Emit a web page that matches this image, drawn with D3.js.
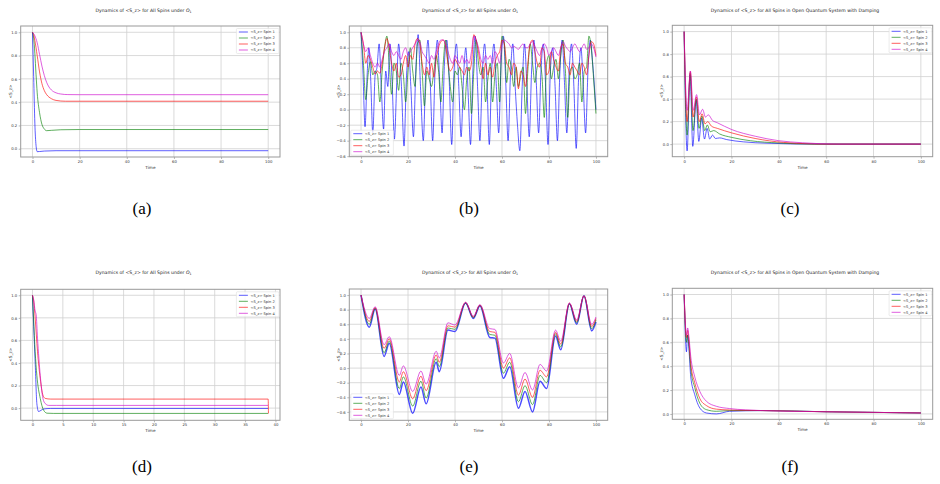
<!DOCTYPE html>
<html>
<head>
<meta charset="utf-8">
<script src="https://cdn.jsdelivr.net/npm/d3@7"></script>
<style>
  body { margin: 0; background: #fff; }
  svg { display: block; }
</style>
</head>
<body>
<div id="chart"></div>
<script>
// ---------------------------------------------
// ---------          Data           -----------
// ---------------------------------------------

const spinNames = ["<S_z> Spin 1", "<S_z> Spin 2", "<S_z> Spin 3", "<S_z> Spin 4"];
const spinColors = ["#0000ff", "#008000", "#ff0000", "#cc00cc"];
const ticks100 = [0, 20, 40, 60, 80, 100];
const ticks40 = [0, 5, 10, 15, 20, 25, 30, 35, 40];
const ticksY01 = [0.0, 0.2, 0.4, 0.6, 0.8, 1.0];
const ticksYneg = [-0.6, -0.4, -0.2, 0.0, 0.2, 0.4, 0.6, 0.8, 1.0];

// (a) closed system, O_1
const a_spin1 = [[0,1.0],[0.5,0.62],[1,0.22],[1.5,0.03],[2,-0.025],[3,-0.024],[5,-0.02],[10,-0.017],[100,-0.017]];
const a_spin2 = [[0,1.0],[0.5,0.95],[1,0.82],[1.5,0.64],[2,0.48],[3,0.31],[4,0.21],[5,0.17],[6,0.155],[8,0.158],[12,0.163],[20,0.165],[100,0.165]];
const a_spin3 = [[0,1.0],[0.5,0.98],[1,0.93],[2,0.8],[3,0.66],[4,0.56],[5,0.5],[6,0.465],[8,0.43],[10,0.415],[14,0.408],[20,0.408],[100,0.408]];
const a_spin4 = [[0,1.0],[1,0.97],[2,0.91],[3,0.81],[4,0.71],[5,0.63],[6,0.57],[7,0.53],[8,0.505],[10,0.48],[12,0.47],[15,0.465],[20,0.464],[100,0.464]];

// (b) oscillating, O_1
const b_spin1 = [[0,1],[0.8,0.5],[1.7,-0.22],[2.6,0.45],[3.3,0.8],[4.1,0.4],[5,-0.3],[6,0.45],[6.8,0.55],[7.7,0.85],[8.6,0.3],[9.6,-0.25],[10.5,0.5],[11.4,0.3],[12.3,0.85],[13.3,0.3],[14.2,-0.38],[15.2,0.35],[16,0.85],[17.2,0.3],[18.3,-0.47],[19.3,0.4],[20.3,0.75],[21.2,0.3],[22.3,-0.35],[23.3,0.5],[24.3,0.97],[25.3,0.3],[26.5,-0.4],[27.5,0.45],[28.5,0.9],[29.4,0.4],[30.5,-0.4],[31.5,0.5],[32.5,0.9],[33.5,0.35],[34.5,-0.3],[35.5,0.6],[36.5,0.9],[37.5,0.4],[38.6,-0.45],[39.6,0.5],[40.6,0.85],[41.6,0.3],[42.6,-0.35],[43.6,0.4],[44.6,0.8],[45.6,0.2],[46.6,-0.45],[47.6,0.5],[48.6,0.95],[49.6,0.3],[50.6,-0.4],[51.6,0.45],[52.6,0.85],[53.6,0.35],[54.6,-0.45],[55.6,0.5],[56.6,0.85],[57.6,0.3],[58.6,-0.3],[59.6,0.6],[60.6,0.95],[61.6,0.35],[62.6,-0.4],[63.6,0.45],[64.6,0.85],[65.6,0.3],[66.6,-0.2],[67.6,-0.53],[68.6,0.3],[69.6,0.85],[70.6,0.3],[71.6,-0.35],[72.6,0.5],[73.6,0.9],[74.6,0.35],[75.6,-0.3],[76.6,0.5],[77.6,0.85],[78.6,0.3],[79.6,-0.45],[80.6,0.5],[81.6,0.8],[82.6,0.3],[83.6,-0.4],[84.6,0.45],[85.6,0.9],[86.6,0.35],[87.6,-0.3],[88.6,0.5],[89.6,0.85],[90.6,0.3],[91.6,-0.5],[92.6,0.4],[93.6,0.8],[94.6,0.3],[95.6,-0.3],[96.6,0.5],[97.6,0.9],[98.6,0.6],[100,0.0]];
const b_spin2 = [[0,1],[1,0.6],[2,0.13],[3,0.45],[4,0.62],[5,0.45],[6,0.5],[7,0.45],[8,0.1],[9,0.5],[10,0.8],[11,0.95],[12,0.6],[13,0.2],[14,0.6],[15,0.5],[16,0.25],[17,0.6],[18,0.45],[19,0.1],[20,0.5],[21,0.8],[22,0.5],[23,0.3],[24,0.85],[25,0.9],[26,0.5],[27,0.05],[28,0.5],[29,0.4],[30,0.3],[31,0.5],[32,0.7],[33,0.5],[34,0.1],[35,0.6],[36,0.9],[37,0.6],[38,0.3],[39,0.1],[40,0.5],[41,0.45],[42,0.55],[43,0.3],[44,0.0],[45,0.4],[46,0.55],[47,-0.05],[48,0.5],[49,0.9],[50,0.6],[51,0.45],[52,0.55],[53,0.1],[54,0.4],[55,0.6],[56,0.1],[57,0.45],[58,0.6],[59,0.1],[60,0.95],[61,0.85],[62,0.35],[63,0.65],[64,0.55],[65,0.3],[66,0.55],[67,0.3],[68,0.45],[69,0.55],[70,-0.05],[71,0.5],[72,0.85],[73,0.6],[74,0.35],[75,0.55],[76,0.6],[77,0.45],[78,-0.1],[79,0.6],[80,0.7],[81,0.4],[82,0.55],[83,0.65],[84,0.4],[85,0.7],[86,0.9],[87,0.5],[88,-0.1],[89,0.5],[90,0.55],[91,0.4],[92,0.45],[93,0.6],[94,0.1],[95,0.5],[96,0.55],[97,0.95],[98,0.8],[99,0.4],[100,-0.05]];
const b_spin3 = [[0,1],[1,0.85],[2,0.6],[3,0.7],[4,0.65],[5,0.55],[6,0.46],[7,0.5],[8,0.47],[9,0.6],[10,0.8],[11,0.92],[12,0.8],[13,0.6],[14,0.5],[15,0.6],[16,0.42],[17,0.45],[18,0.6],[19,0.7],[20,0.55],[21,0.7],[22,0.65],[23,0.85],[24,0.92],[25,0.85],[26,0.6],[27,0.45],[28,0.55],[29,0.45],[30,0.6],[31,0.42],[32,0.65],[33,0.8],[34,0.88],[35,0.9],[36,0.82],[37,0.6],[38,0.5],[39,0.55],[40,0.65],[41,0.6],[42,0.55],[43,0.5],[44,0.45],[45,0.55],[46,0.5],[47,0.6],[48,0.97],[49,0.9],[50,0.75],[51,0.55],[52,0.4],[53,0.6],[54,0.45],[55,0.55],[56,0.42],[57,0.6],[58,0.7],[59,0.75],[60,0.9],[61,0.85],[62,0.6],[63,0.55],[64,0.45],[65,0.6],[66,0.55],[67,0.27],[68,0.5],[69,0.45],[70,0.3],[71,0.6],[72,0.85],[73,0.9],[74,0.75],[75,0.6],[76,0.55],[77,0.8],[78,0.75],[79,0.45],[80,0.5],[81,0.75],[82,0.65],[83,0.55],[84,0.5],[85,0.8],[86,0.85],[87,0.6],[88,0.55],[89,0.45],[90,0.6],[91,0.55],[92,0.5],[93,0.45],[94,0.6],[95,0.55],[96,0.45],[97,0.7],[98,0.88],[99,0.85],[100,0.7]];
const b_spin4 = [[0,1],[1,0.85],[2,0.75],[3,0.8],[4,0.7],[5,0.6],[6,0.55],[7,0.6],[8,0.55],[9,0.65],[10,0.75],[11,0.8],[12,0.85],[13,0.75],[14,0.7],[15,0.75],[16,0.7],[17,0.65],[18,0.75],[19,0.8],[20,0.7],[21,0.75],[22,0.8],[23,0.85],[24,0.9],[25,0.88],[26,0.75],[27,0.7],[28,0.65],[29,0.6],[30,0.7],[31,0.65],[32,0.75],[33,0.85],[34,0.9],[35,0.9],[36,0.85],[37,0.75],[38,0.65],[39,0.6],[40,0.7],[41,0.65],[42,0.6],[43,0.7],[44,0.6],[45,0.65],[46,0.6],[47,0.75],[48,0.95],[49,0.9],[50,0.8],[51,0.65],[52,0.6],[53,0.7],[54,0.65],[55,0.7],[56,0.6],[57,0.75],[58,0.7],[59,0.6],[60,0.85],[61,0.9],[62,0.88],[63,0.85],[64,0.8],[65,0.82],[66,0.8],[67,0.78],[68,0.82],[69,0.85],[70,0.8],[71,0.8],[72,0.85],[73,0.88],[74,0.82],[75,0.75],[76,0.7],[77,0.8],[78,0.85],[79,0.8],[80,0.7],[81,0.75],[82,0.8],[83,0.75],[84,0.7],[85,0.8],[86,0.88],[87,0.82],[88,0.78],[89,0.75],[90,0.8],[91,0.85],[92,0.8],[93,0.75],[94,0.8],[95,0.85],[96,0.78],[97,0.8],[98,0.85],[99,0.8],[100,0.68]];

// (c) open system with damping
const c_spin1 = [[0,1.0],[1.26,-0.06],[2.5,0.615],[3.65,-0.02],[5.05,0.39],[6.2,0.024],[7.4,0.23],[8.6,0.045],[9.7,0.14],[10.8,0.045],[12,0.08],[13.2,0.05],[15,0.055],[18,0.04],[25,0.02],[35,0.008],[45,0.002],[60,0.0],[100,0.0]];
const c_spin2 = [[0,1.0],[1.26,0.08],[2.55,0.63],[3.75,0.12],[5.15,0.4],[6.3,0.14],[7.5,0.25],[8.7,0.12],[9.8,0.17],[11,0.11],[12.5,0.12],[15,0.09],[20,0.06],[28,0.03],[40,0.01],[55,0.0],[100,0.0]];
const c_spin3 = [[0,1.0],[1.26,0.2],[2.6,0.645],[3.8,0.24],[5.2,0.42],[6.4,0.2],[7.6,0.27],[8.8,0.18],[10,0.2],[11.5,0.16],[14,0.14],[20,0.1],[30,0.05],[42,0.015],[60,0.0],[100,0.0]];
const c_spin4 = [[0,1.0],[1.26,0.3],[2.65,0.65],[3.85,0.3],[5.25,0.44],[6.5,0.26],[7.8,0.31],[9,0.24],[10.2,0.26],[12,0.21],[14,0.19],[20,0.13],[30,0.07],[40,0.03],[50,0.012],[65,0.0],[100,0.0]];

// (d) closed system, O_1, short run
const d_spin1 = [[0,1.0],[0.2,0.72],[0.44,0.41],[0.72,0.04],[1.0,-0.03],[1.4,-0.02],[1.8,-0.008],[3,-0.003],[38.8,-0.003]];
const d_spin2 = [[0,1.0],[0.17,0.8],[0.44,0.5],[0.72,0.29],[1.28,0.086],[1.83,-0.018],[2.4,-0.045],[3.5,-0.047],[38.8,-0.047]];
const d_spin3 = [[0,1.0],[0.2,0.95],[0.44,0.8],[0.83,0.5],[1.28,0.26],[1.72,0.115],[2.1,0.086],[3,0.08],[38.8,0.08],[38.85,-0.047]];
const d_spin4 = [[0,1.0],[0.2,0.96],[0.44,0.86],[0.6,0.83],[0.83,0.62],[1.28,0.29],[1.72,0.086],[2.1,0.04],[2.67,0.024],[4,0.024],[38.8,0.024]];

// (e) slow oscillation, O_1
const e_spin1 = [[0,1.0],[3.5,0.56],[6,0.81],[9.8,0.16],[12,0.34],[16.3,-0.36],[18,-0.19],[22,-0.62],[25.5,-0.26],[27.7,-0.49],[32,0.08],[33.3,-0.05],[37,0.52],[40,0.5],[44.5,0.89],[47.8,0.68],[50.6,0.85],[54.8,0.42],[57,0.41],[60.6,-0.14],[63.3,0.02],[67,-0.55],[69.8,-0.32],[73,-0.6],[76.2,-0.18],[79,-0.28],[82.8,0.44],[85,0.25],[88.7,0.88],[91.8,0.6],[94.9,0.99],[98.2,0.51],[100,0.63]];
const e_spin2 = [[0,1.0],[3.5,0.6],[6,0.82],[9.8,0.21],[12,0.37],[16.3,-0.28],[18,-0.12],[22,-0.52],[25.5,-0.18],[27.7,-0.41],[32,0.13],[33.3,0.02],[37,0.55],[40,0.53],[44.5,0.89],[47.8,0.69],[50.6,0.86],[54.8,0.46],[57,0.45],[60.6,-0.07],[63.3,0.08],[67,-0.46],[69.8,-0.24],[73,-0.5],[76.2,-0.1],[79,-0.2],[82.8,0.47],[85,0.29],[88.7,0.88],[91.8,0.62],[94.9,0.99],[98.2,0.54],[100,0.66]];
const e_spin3 = [[0,1.0],[3.5,0.64],[6,0.83],[9.8,0.27],[12,0.4],[16.3,-0.19],[18,-0.05],[22,-0.42],[25.5,-0.11],[27.7,-0.31],[32,0.18],[33.3,0.08],[37,0.58],[40,0.56],[44.5,0.9],[47.8,0.7],[50.6,0.86],[54.8,0.5],[57,0.49],[60.6,0.0],[63.3,0.14],[67,-0.37],[69.8,-0.15],[73,-0.4],[76.2,-0.03],[79,-0.12],[82.8,0.49],[85,0.33],[88.7,0.89],[91.8,0.64],[94.9,0.99],[98.2,0.57],[100,0.68]];
const e_spin4 = [[0,1.0],[3.5,0.68],[6,0.84],[9.8,0.32],[12,0.43],[16.3,-0.1],[18,0.03],[22,-0.32],[25.5,-0.04],[27.7,-0.22],[32,0.23],[33.3,0.14],[37,0.62],[40,0.59],[44.5,0.9],[47.8,0.71],[50.6,0.87],[54.8,0.54],[57,0.53],[60.6,0.07],[63.3,0.2],[67,-0.27],[69.8,-0.06],[73,-0.3],[76.2,0.05],[79,-0.04],[82.8,0.52],[85,0.37],[88.7,0.89],[91.8,0.66],[94.9,0.99],[98.2,0.6],[100,0.7]];

// (f) open system with damping
const f_spin1 = [[0,1.0],[1,0.52],[1.4,0.66],[2,0.55],[2.8,0.31],[4.5,0.16],[6.6,0.05],[9.4,0.008],[13.6,0.0],[19.2,0.022],[33,0.028],[60,0.018],[100,0.008]];
const f_spin2 = [[0,1.0],[1,0.6],[1.4,0.66],[2,0.58],[2.8,0.38],[4.5,0.22],[6.6,0.09],[9.4,0.036],[13.6,0.022],[19.2,0.028],[33,0.028],[60,0.018],[100,0.008]];
const f_spin3 = [[0,1.0],[1,0.64],[1.5,0.7],[2,0.62],[2.8,0.42],[4.5,0.26],[6.6,0.13],[9.4,0.07],[13.6,0.04],[19.2,0.033],[33,0.028],[60,0.018],[100,0.008]];
const f_spin4 = [[0,1.0],[1,0.66],[1.5,0.72],[2,0.65],[2.8,0.48],[4.5,0.31],[6.6,0.19],[9.4,0.106],[13.6,0.064],[19.2,0.045],[26,0.034],[33,0.028],[60,0.018],[100,0.008]];

// ---------------------------------------------
// ---------    Basic Chart Layout      --------
// ---------------------------------------------

const W = 940, H = 484;
const svg = d3.select("#chart").append("svg")
  .attr("width", W)
  .attr("height", H)
  .style("font-family", "'DejaVu Sans', sans-serif");

const panels = [
  {box: [20.7, 280, 26, 157], xd: [-5, 105], yd: [-0.071, 1.054], xt: ticks100, yt: ticksY01,
   data: [a_spin1, a_spin2, a_spin3, a_spin4], title: "o1", tx: 143.5, ty: 11.5, leg: "tr", cap: "(a)", cx: 142, cy: 214, bw: 0.9},
  {box: [349.3, 607.7, 26, 156.7], xd: [-5, 105], yd: [-0.607, 1.081], xt: ticks100, yt: ticksYneg,
   data: [b_spin1, b_spin2, b_spin3, b_spin4], title: "o1", tx: 470, ty: 11.5, leg: "bl", cap: "(b)", cx: 469, cy: 214, bw: 0.9},
  {box: [672.3, 932.7, 25.3, 156.7], xd: [-5, 105], yd: [-0.112, 1.056], xt: ticks100, yt: ticksY01,
   data: [c_spin1, c_spin2, c_spin3, c_spin4], title: "damp", tx: 795, ty: 11.5, leg: "tr", cap: "(c)", cx: 790, cy: 214, bw: 0.9},
  {box: [20.7, 280, 289.3, 420.3], xd: [-1.94, 40.75], yd: [-0.108, 1.053], xt: ticks40, yt: ticksY01,
   data: [d_spin1, d_spin2, d_spin3, d_spin4], title: "o1", tx: 143.5, ty: 274, leg: "tr", cap: "(d)", cx: 142, cy: 472, bw: 0.9},
  {box: [349.3, 607.7, 289, 420.3], xd: [-5, 105], yd: [-0.715, 1.083], xt: ticks100, yt: ticksYneg,
   data: [e_spin1, e_spin2, e_spin3, e_spin4], title: "o1", tx: 470, ty: 274, leg: "bl", cap: "(e)", cx: 469, cy: 472, bw: 1.5},
  {box: [672.3, 932.7, 288.3, 419.3], xd: [-5, 105], yd: [-0.045, 1.052], xt: ticks100, yt: ticksY01,
   data: [f_spin1, f_spin2, f_spin3, f_spin4], title: "damp", tx: 795, ty: 274, leg: "tr", cap: "(f)", cx: 790, cy: 472, bw: 0.9}
];

panels.forEach(p => drawPanel(p));

function drawPanel(p) {
  const [x0, x1, y0, y1] = p.box;
  const x = d3.scaleLinear().domain(p.xd).range([x0, x1]);
  const y = d3.scaleLinear().domain(p.yd).range([y1, y0]);
  const g = svg.append("g");

  // title
  const t = g.append("text")
    .attr("x", p.tx).attr("y", p.ty)
    .attr("text-anchor", "middle")
    .attr("font-size", 4.6)
    .attr("fill", "#222");
  if (p.title === "o1") {
    t.append("tspan").text("Dynamics of <S_z> for All Spins under ");
    t.append("tspan").attr("font-style", "italic").text("O");
    t.append("tspan").attr("font-size", 3.2).attr("dy", 1).text("1");
  } else {
    t.text("Dynamics of <S_z> for All Spins in Open Quantum System with Damping");
  }

  // grid
  g.append("g").selectAll("line.gx").data(p.xt).join("line")
    .attr("x1", d => x(d)).attr("x2", d => x(d))
    .attr("y1", y0).attr("y2", y1)
    .attr("stroke", "#d0d0d0").attr("stroke-width", 0.8);
  g.append("g").selectAll("line.gy").data(p.yt).join("line")
    .attr("x1", x0).attr("x2", x1)
    .attr("y1", d => y(d)).attr("y2", d => y(d))
    .attr("stroke", "#d0d0d0").attr("stroke-width", 0.8);

  // axes
  const xAxis = d3.axisBottom(x).tickValues(p.xt).tickSize(2).tickPadding(1.5)
    .tickFormat(d3.format("d"));
  const yAxis = d3.axisLeft(y).tickValues(p.yt).tickSize(2).tickPadding(1.5)
    .tickFormat(d3.format(".1f"));
  const gx = g.append("g").attr("transform", `translate(0,${y1})`).call(xAxis);
  const gy = g.append("g").attr("transform", `translate(${x0},0)`).call(yAxis);
  [gx, gy].forEach(a => {
    a.select(".domain").remove();
    a.selectAll(".tick line").attr("stroke", "#888").attr("stroke-width", 0.6);
    a.selectAll(".tick text").attr("font-size", 3.8).attr("fill", "#333")
      .attr("font-family", "'DejaVu Sans', sans-serif");
  });
  gy.selectAll(".tick text").text(d => d3.format(".1f")(d).replace("-", "\u2212"));

  // lines
  const line = d3.line()
    .x(d => x(d[0]))
    .y(d => y(d[1]))
    .curve(d3.curveMonotoneX);
  p.data.forEach((s, i) => {
    g.append("path")
      .datum(s)
      .attr("d", line)
      .attr("fill", "none")
      .attr("stroke", spinColors[i])
      .attr("stroke-opacity", 0.7)
      .attr("stroke-width", i === 0 ? p.bw : 0.9);
  });

  // frame
  g.append("rect")
    .attr("x", x0).attr("y", y0)
    .attr("width", x1 - x0).attr("height", y1 - y0)
    .attr("fill", "none").attr("stroke", "#999").attr("stroke-width", 1);

  // axis labels
  g.append("text")
    .attr("x", (x0 + x1) / 2).attr("y", y1 + 12)
    .attr("text-anchor", "middle").attr("font-size", 4.2).attr("fill", "#333")
    .text("Time");
  g.append("text")
    .attr("transform", `translate(${x0 - 9},${(y0 + y1) / 2}) rotate(-90)`)
    .attr("text-anchor", "middle").attr("font-size", 4.2).attr("fill", "#333")
    .text("<S_z>");

  // legend
  const lw = 42.6, lh = 25;
  const lx = p.leg === "tr" ? x1 - lw - 1 : x0 + 1.5;
  const ly = p.leg === "tr" ? y0 + 2.5 : y1 - lh - 1.5;
  const legend = g.append("g").attr("transform", `translate(${lx},${ly})`);
  legend.append("rect")
    .attr("width", lw).attr("height", lh).attr("rx", 1)
    .attr("fill", "#fff").attr("fill-opacity", 0.85)
    .attr("stroke", "#ddd").attr("stroke-width", 0.6);
  spinNames.forEach((n, i) => {
    legend.append("line")
      .attr("x1", 2.5).attr("x2", 11.5)
      .attr("y1", 3.5 + i * 6).attr("y2", 3.5 + i * 6)
      .attr("stroke", spinColors[i]).attr("stroke-opacity", 0.7).attr("stroke-width", 0.9);
    legend.append("text")
      .attr("x", 14).attr("y", 3.5 + i * 6 + 1.3)
      .attr("font-size", 3.6).attr("fill", "#333")
      .text(n);
  });

  // caption
  svg.append("text")
    .attr("x", p.cx).attr("y", p.cy)
    .attr("text-anchor", "middle")
    .attr("font-family", "'Liberation Serif', 'DejaVu Serif', serif")
    .attr("font-size", 17)
    .attr("fill", "#000")
    .text(p.cap);
}
</script>
</body>
</html>
